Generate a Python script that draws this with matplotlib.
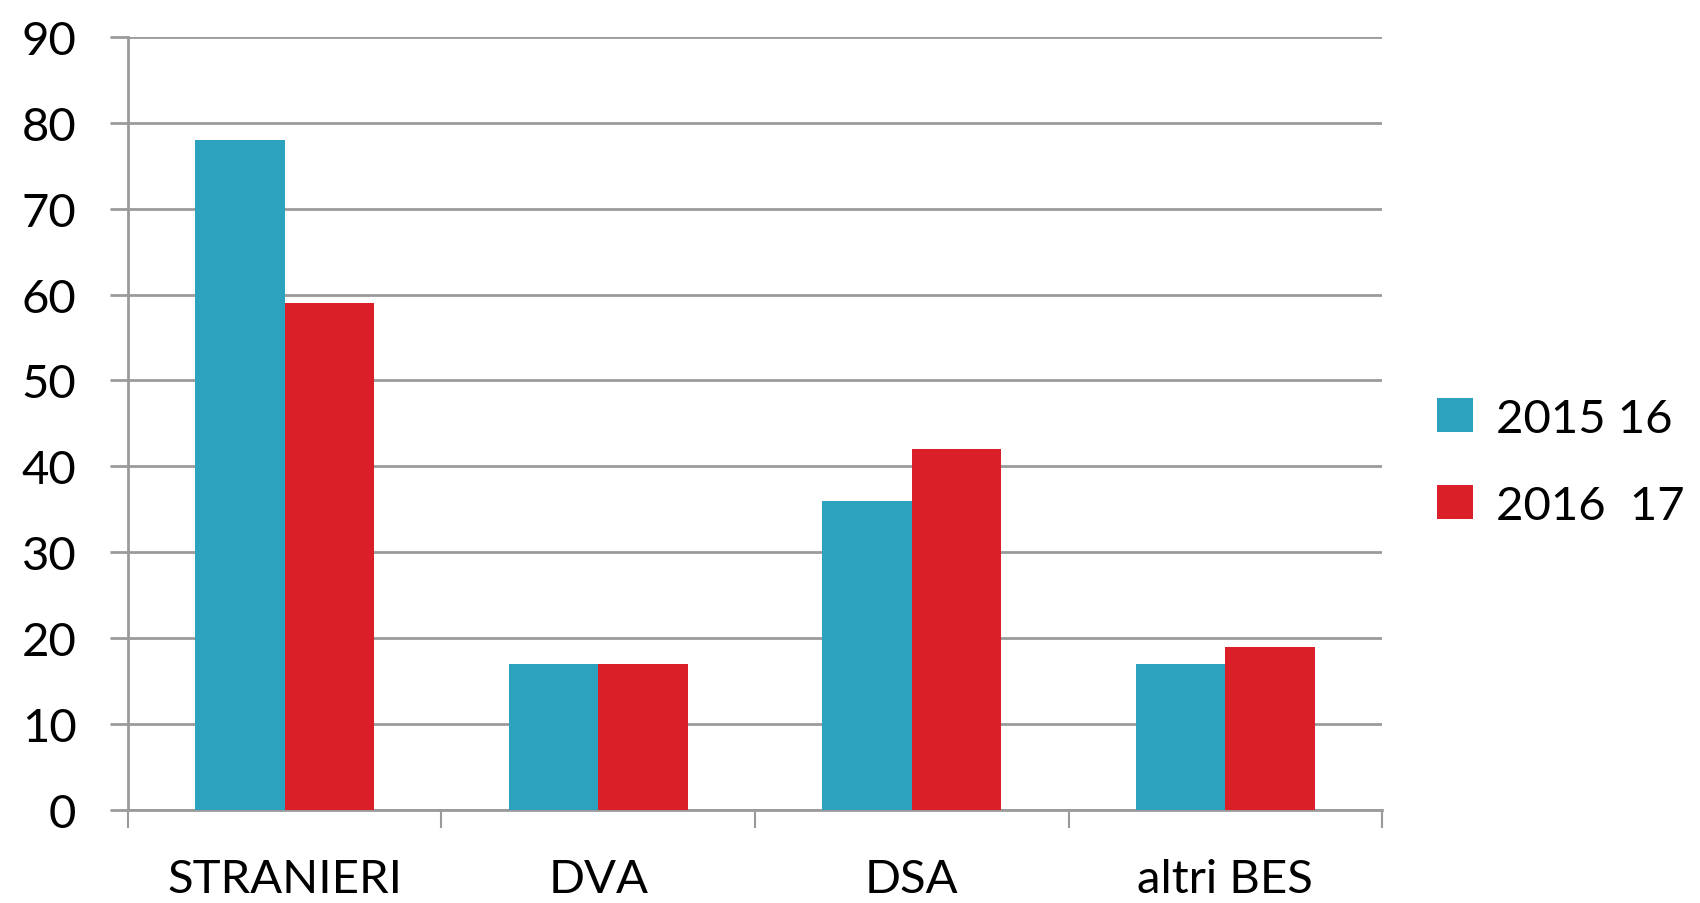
import matplotlib.pyplot as plt
import numpy as np

plt.rcParams['font.family'] = ['Lato', 'DejaVu Sans']

categorie = ["STRANIERI", "DVA", "DSA", "altri BES"]
anno_2015_16 = [78, 17, 36, 17]
anno_2016_17 = [59, 17, 42, 19]
serie_labels = ["2015 16", "2016  17"]
colori = ["#2ca2bf", "#da1f28"]
grigio = "#9a9a9a"

fig = plt.figure(figsize=(17, 9.04), dpi=100)
ax = fig.add_axes([0.0752, 0.103, 0.7378, 0.855])

x = np.arange(len(categorie))
w = 0.285
ax.bar(x - w / 2, anno_2015_16, width=w, color=colori[0], label=serie_labels[0], zorder=3)
ax.bar(x + w / 2, anno_2016_17, width=w, color=colori[1], label=serie_labels[1], zorder=3)

ax.set_xlim(-0.5, len(categorie) - 0.5)
ax.set_ylim(0, 90)
ax.set_yticks(range(0, 91, 10))
ax.yaxis.grid(True, color=grigio, linewidth=2, zorder=0)
ax.set_axisbelow(True)

ax.set_xticks(x)
ax.set_xticklabels(categorie, fontsize=34)
ax.set_xticks(np.arange(-0.5, len(categorie), 1), minor=True)
ax.tick_params(axis='x', which='major', length=0, pad=35)
ax.tick_params(axis='x', which='minor', length=13, width=1.5, color=grigio)
ax.tick_params(axis='y', length=13, width=2, color=grigio, labelsize=34, pad=24)

for s in ['top', 'right']:
    ax.spines[s].set_visible(False)
ax.spines['left'].set_color(grigio)
ax.spines['left'].set_linewidth(2)
ax.spines['bottom'].set_color(grigio)
ax.spines['bottom'].set_linewidth(2)

ax.legend(loc='center left', bbox_to_anchor=(1.01, 0.45), frameon=False, fontsize=34,
          handlelength=0.75, handleheight=0.75, handletextpad=0.5, labelspacing=0.95)

fig.savefig("out.png", dpi=100)
